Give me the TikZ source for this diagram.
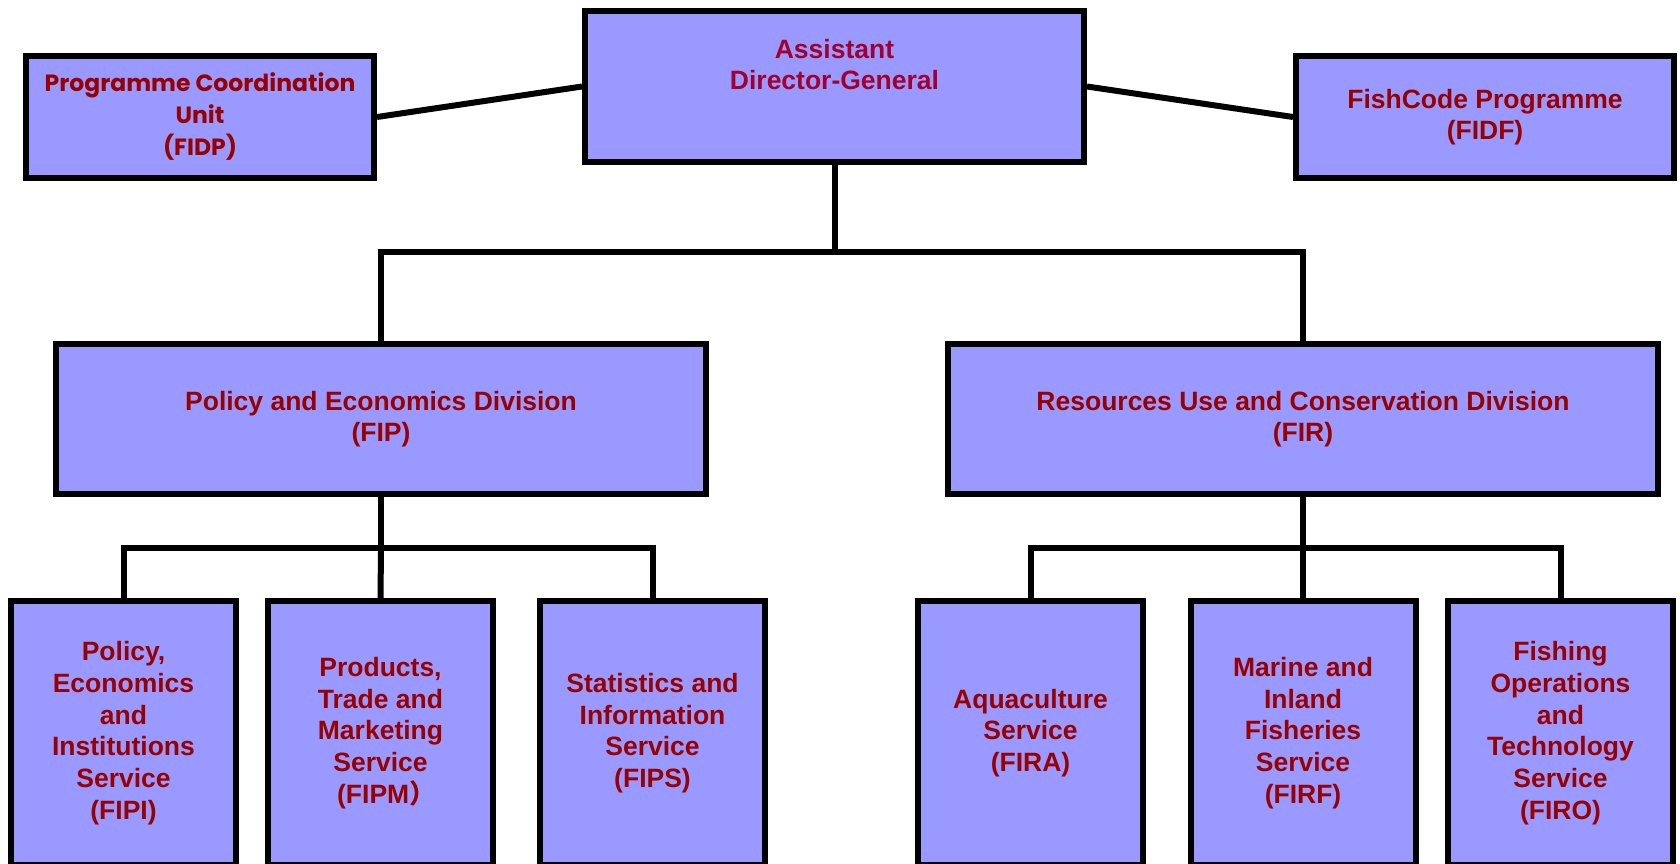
\documentclass[tikz,border=0pt]{standalone}
\usepackage{fontspec}
\setmainfont{Liberation Sans}
\newfontfamily\comicfont{Poppins}
\newfontfamily\cjkfont{Noto Sans CJK SC}
\definecolor{boxfill}{HTML}{9999FF}
\definecolor{txtred}{HTML}{990000}
\definecolor{adgred}{HTML}{A3002E}
\newcommand\boxfont{\bfseries\fontsize{26.5}{31.7}\selectfont}
\newcommand\comicsize{\bfseries\fontsize{23.5}{32}\selectfont}
\tikzset{
  orgbox/.style={draw=black, line width=6pt, fill=boxfill, text=txtred,
    font=\boxfont, align=center, inner sep=0pt},
  topbox/.style={orgbox, minimum height=121pt},
  divbox/.style={orgbox, minimum height=150pt},
  svcbox/.style={orgbox, minimum width=225pt, minimum height=264pt},
  link/.style={draw=black, line width=6pt},
}
\begin{document}
\begin{tikzpicture}[x=1pt, y=-1pt]
\useasboundingbox (0,0) rectangle (1680,864);
\clip (0,0) rectangle (1680,864);
% top row
\node[orgbox, minimum width=499pt, minimum height=151pt] (adg) at (834.5,86.5) {};
\node[text=adgred, font=\boxfont, align=center, inner sep=0pt] (adgtext) at (834.5,64.5) {Assistant\\Director-General};
\node[topbox, minimum width=348pt, font=\comicfont\comicsize] (fidp) at (200,117) {Programme Coordination\\Unit\\(FIDP)};
\node[topbox, minimum width=378pt] (fidf) at (1485,117) {FishCode Programme\\(FIDF)};
% divisions
\node[divbox, minimum width=650pt] (fip) at (381,419) {Policy and Economics Division\\(FIP)};
\node[divbox, minimum width=710pt] (fir) at (1303,419) {Resources Use and Conservation Division\\(FIR)};
% services
\node[svcbox] (fipi) at (123.5,733) {Policy,\\Economics\\and\\Institutions\\Service\\(FIPI)};
\node[svcbox] (fipm) at (380.5,733) {Products,\\Trade and\\Marketing\\Service\\(FIPM{\cjkfont\bfseries ）}\kern-0.45em};
\node[svcbox] (fips) at (652.5,733) {Statistics and\\Information\\Service\\(FIPS)};
\node[svcbox] (fira) at (1030.5,733) {Aquaculture\\Service\\(FIRA)};
\node[svcbox] (firf) at (1303,733) {Marine and\\Inland\\Fisheries\\Service\\(FIRF)};
\node[svcbox] (firo) at (1560.5,733) {Fishing\\Operations\\and\\Technology\\Service\\(FIRO)};
% junctions
\coordinate (j1) at (834.5,252);
\coordinate (j2) at (381,548);
\coordinate (j3) at (1303,548);
% connectors
\draw[link] (fidp.east) -- (adg.west);
\draw[link] (adg.east) -- (fidf.west);
\draw[link] (adg.south) -- (j1);
\draw[link] (fip.north) |- (j1) -| (fir.north);
\draw[link] (fip.south) -- (j2);
\draw[link] (fipi.north) |- (j2) -| (fips.north);
\draw[link] (fipm.north) -- (j2);
\draw[link] (fir.south) -- (j3);
\draw[link] (fira.north) |- (j3) -| (firo.north);
\draw[link] (firf.north) -- (j3);
\end{tikzpicture}
\end{document}
